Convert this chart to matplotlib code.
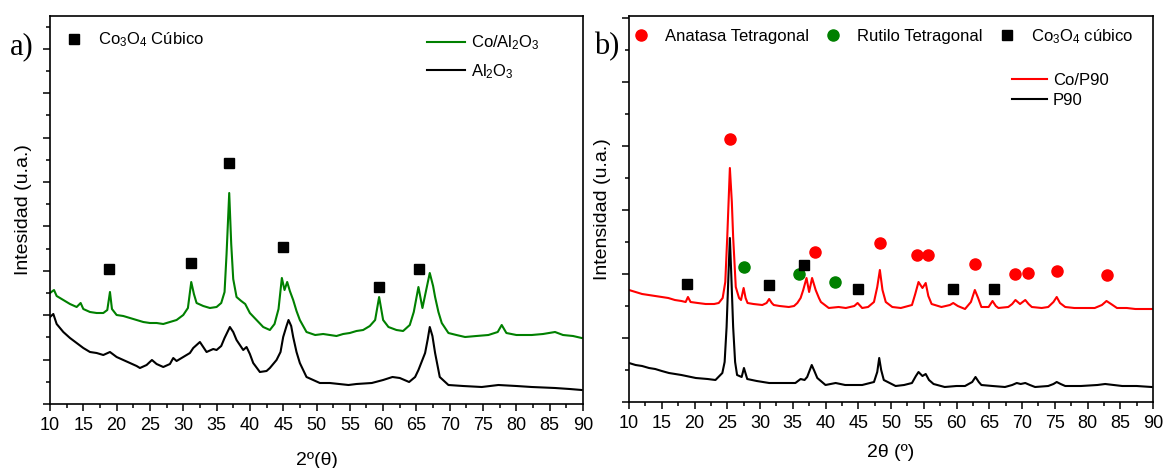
import matplotlib
matplotlib.use("Agg")
import matplotlib.pyplot as plt
from matplotlib.lines import Line2D
from matplotlib.ticker import MultipleLocator, NullFormatter

plt.rcParams['font.family'] = ['Liberation Sans', 'DejaVu Sans']
plt.rcParams['mathtext.fontset'] = 'custom'
plt.rcParams['mathtext.rm'] = 'Liberation Sans'
plt.rcParams['mathtext.it'] = 'Liberation Sans'
plt.rcParams['mathtext.default'] = 'rm'

# --------------------------
# datos panel a) (intensidad en u.a.)
# --------------------------
tt_co_al = [10.0, 10.6, 11.0, 12.0, 13.0, 14.0, 14.6, 15.0, 16.0, 17.0, 18.0, 18.6, 19.0, 19.3,
            20.0, 21.0, 22.0, 23.0, 24.0, 25.0, 26.0, 27.0, 28.0, 29.0, 30.0, 30.7, 31.2, 31.6,
            32.0, 33.0, 34.0, 35.0, 35.7, 36.2, 36.5, 36.9, 37.2, 37.5, 38.0, 38.7, 39.3, 40.0,
            41.0, 42.0, 43.0, 43.7, 44.3, 44.8, 45.2, 45.6, 46.0, 46.5, 47.0, 47.5, 48.5, 49.8,
            51.0, 52.0, 53.0, 54.0, 55.0, 56.0, 57.0, 58.0, 58.8, 59.4, 60.0, 60.8, 62.0, 63.0,
            64.0, 64.6, 65.3, 65.9, 66.4, 67.0, 67.5, 67.8, 68.3, 68.8, 69.8, 71.0, 72.3, 74.0,
            75.8, 77.2, 77.8, 78.5, 80.0, 82.3, 84.0, 85.8, 87.0, 88.5, 89.8]
i_co_al = [111, 114, 108, 104, 100, 97, 101, 95, 92, 91, 91, 94, 112, 95,
           89, 88, 86, 84, 82, 81, 81, 80, 82, 84, 89, 96, 122, 110,
           101, 98, 96, 97, 101, 112, 150, 211, 160, 125, 107, 103, 100, 91,
           84, 77, 74, 80, 95, 126, 114, 122, 113, 104, 93, 84, 72, 69,
           70, 69, 68, 70, 71, 73, 74, 78, 84, 107, 84, 77, 74, 73,
           79, 92, 117, 96, 112, 131, 118, 107, 92, 81, 71, 69, 67, 68,
           69, 72, 79, 71, 69, 69, 70, 72, 69, 68, 66]

tt_al = [10.0, 10.5, 11.0, 12.0, 13.0, 14.0, 15.0, 16.0, 17.0, 18.0, 19.0, 20.0, 21.0, 22.0,
         23.0, 23.5, 24.5, 25.3, 26.0, 27.0, 28.0, 28.5, 29.0, 30.0, 31.0, 31.5, 32.5, 33.0,
         33.5, 34.5, 35.0, 35.7, 36.2, 37.0, 37.5, 38.0, 39.0, 39.5, 40.0, 40.5, 41.5, 42.5,
         43.0, 44.0, 44.6, 45.0, 45.5, 45.8, 46.2, 46.5, 47.0, 47.5, 48.5, 49.5, 50.5, 52.0,
         54.8, 56.0, 58.3, 60.0, 61.4, 62.5, 63.9, 64.8, 65.3, 66.3, 66.7, 67.0, 67.4, 67.8,
         68.5, 69.8, 72.0, 74.8, 77.3, 80.0, 82.3, 85.8, 88.0, 89.8]
i_al = [87, 90, 80, 72, 66, 61, 56, 52, 51, 49, 52, 47, 44, 41,
        38, 36, 39, 44, 40, 37, 40, 46, 43, 47, 51, 56, 62, 57,
        52, 55, 54, 58, 66, 77, 72, 64, 54, 57, 50, 41, 32, 33,
        36, 44, 52, 67, 78, 84, 78, 67, 52, 41, 27, 24, 21, 21,
        19, 20, 21, 24, 27, 26, 22, 27, 34, 51, 65, 77, 68, 51,
        27, 19, 18, 17, 19, 18, 17, 16, 15, 14]

# picos Co3O4 cubico (panel a)
tt_co3o4_a = [18.9, 31.2, 36.9, 44.9, 59.4, 65.4]
i_co3o4_a = [135, 141, 241, 157, 117, 135]

# --------------------------
# datos panel b)
# --------------------------
tt_co_p90 = [10.0, 11.0, 12.0, 13.0, 14.0, 15.0, 16.0, 17.0, 18.0, 18.65, 19.0, 19.4, 20.5, 21.7,
             23.0, 23.7, 24.3, 24.7, 25.0, 25.4, 25.7, 25.9, 26.3, 26.8, 27.1, 27.5, 27.8, 28.1,
             29.0, 30.35, 31.0, 31.4, 31.8, 32.1, 33.0, 34.4, 35.2, 35.7, 36.2, 36.6, 37.1, 37.5,
             37.95, 38.5, 39.0, 39.3, 40.5, 42.0, 43.1, 44.4, 44.9, 45.6, 46.5, 47.4, 47.9, 48.3,
             48.7, 49.2, 50.2, 51.5, 53.2, 53.7, 54.2, 54.8, 55.3, 55.7, 56.2, 57.7, 59.0, 59.5,
             60.2, 61.3, 62.2, 62.8, 63.3, 63.8, 64.9, 65.5, 66.0, 66.4, 67.9, 68.5, 69.0, 69.7,
             70.5, 71.0, 71.5, 73.0, 74.0, 74.8, 75.3, 75.8, 76.6, 78.0, 81.1, 82.2, 82.9, 83.6,
             84.5, 86.0, 87.3, 89.8]
i_co_p90 = [112, 110, 108, 107, 106, 105, 104, 102, 101, 100, 105, 100, 99, 98,
            98, 99, 104, 120, 165, 234, 200, 165, 115, 104, 102, 114, 104, 99,
            98, 97, 99, 103, 99, 97, 96, 95, 96, 99, 104, 112, 124, 110,
            124, 112, 104, 100, 94, 95, 94, 96, 99, 94, 95, 100, 115, 132,
            112, 100, 95, 94, 97, 108, 120, 114, 119, 106, 98, 95, 97, 99,
            96, 93, 100, 112, 104, 95, 95, 101, 96, 94, 95, 98, 102, 98,
            102, 98, 95, 94, 95, 100, 105, 99, 95, 94, 94, 97, 101, 98,
            94, 94, 93, 93]

tt_p90 = [10.0, 11.0, 12.0, 13.05, 14.0, 15.0, 16.1, 18.0, 20.2, 22.0, 23.2, 24.25, 24.6, 24.9,
          25.2, 25.4, 25.6, 25.9, 26.2, 26.5, 27.2, 27.55, 28.05, 29.5, 31.4, 33.0, 35.4, 36.2,
          36.8, 37.2, 37.9, 38.3, 38.75, 40.0, 41.55, 43.0, 45.6, 47.4, 47.9, 48.2, 48.5, 48.9,
          50.7, 52.0, 53.2, 53.8, 54.2, 54.8, 55.3, 55.8, 56.5, 58.2, 60.0, 61.3, 62.4, 62.9,
          63.4, 63.8, 65.5, 67.4, 68.5, 69.2, 69.8, 70.5, 71.2, 72.0, 74.0, 74.8, 75.3, 75.9,
          76.6, 79.0, 81.5, 82.7, 84.0, 85.3, 87.5, 89.8]
i_p90 = [39, 37, 36, 34, 33, 31, 29, 27, 24, 23, 22, 29, 40, 75,
         130, 164, 130, 75, 40, 27, 25, 34, 23, 21, 19, 19, 19, 23,
         22, 25, 37, 31, 24, 17, 19, 17, 17, 20, 30, 44, 32, 22,
         16, 17, 19, 26, 30, 26, 28, 22, 18, 15, 16, 16, 20, 25,
         20, 17, 16, 15, 17, 19, 18, 19, 17, 15, 16, 18, 20, 18,
         16, 16, 17, 18, 17, 16, 16, 15]

# marcadores de fases (panel b)
tt_anatasa = [25.4, 38.35, 48.3, 54.0, 55.6, 62.9, 69.0, 70.9, 75.4, 83.0]
i_anatasa = [263, 150, 159, 147, 147, 138, 128, 129, 131, 127]
tt_rutilo = [27.5, 36.0, 41.4]
i_rutilo = [135, 128, 120]
tt_co3o4_b = [18.9, 31.3, 36.7, 44.9, 59.5, 65.7]
i_co3o4_b = [118, 117, 137, 113, 113, 113]

verde = '#008000'
rojo = '#ff0000'

fig = plt.figure(figsize=(11.66, 4.68), dpi=100)
ax1 = fig.add_axes([50/1166, 64/468, 533/1166, 388/468])
ax2 = fig.add_axes([629/1166, 66/468, 524/1166, 386/468])


def estilo(ax, ymax, ymaj):
    ax.set_xlim(10, 90)
    ax.set_ylim(0, ymax)
    ax.xaxis.set_major_locator(MultipleLocator(5))
    ax.xaxis.set_minor_locator(MultipleLocator(2.5))
    ax.yaxis.set_major_locator(MultipleLocator(ymaj))
    ax.yaxis.set_minor_locator(MultipleLocator(ymaj / 2))
    ax.yaxis.set_major_formatter(NullFormatter())
    ax.tick_params(which='major', direction='out', length=5, width=1.1, labelsize=13, pad=4)
    ax.tick_params(which='minor', direction='out', length=3, width=1.1)
    for s in ax.spines.values():
        s.set_linewidth(1.2)


# --------------------------
# panel a)
# --------------------------
ax1.plot(tt_co_al, i_co_al, color=verde, lw=1.5)
ax1.plot(tt_al, i_al, color='black', lw=1.5)
ax1.plot(tt_co3o4_a, i_co3o4_a, 's', color='black', ms=7, ls='none')
estilo(ax1, 388, 44.4)
ax1.set_xlabel('2º(θ)', fontsize=14, labelpad=13)
ax1.set_ylabel('Intesidad (u.a.)', fontsize=14, labelpad=4)

h_sq = Line2D([], [], marker='s', color='black', ls='none', ms=7)
leg = ax1.legend([h_sq], ['Co$_3$O$_4$ Cúbico'], loc='upper left', frameon=False,
                 fontsize=12, bbox_to_anchor=(0.0295, 0.963), borderpad=0, borderaxespad=0,
                 handlelength=1, handletextpad=0.94)
ax1.add_artist(leg)
h_g = Line2D([], [], color=verde, lw=1.5)
h_k = Line2D([], [], color='black', lw=1.5)
ax1.legend([h_g, h_k], ['Co/Al$_2$O$_3$', 'Al$_2$O$_3$'], loc='upper left', frameon=False,
           fontsize=12, bbox_to_anchor=(0.707, 0.955), borderpad=0, borderaxespad=0,
           handlelength=2.3, handletextpad=0.36, labelspacing=0.6)

# --------------------------
# panel b)
# --------------------------
ax2.plot(tt_co_p90, i_co_p90, color=rojo, lw=1.5)
ax2.plot(tt_p90, i_p90, color='black', lw=1.5)
ax2.plot(tt_anatasa, i_anatasa, 'o', color=rojo, ms=8, ls='none')
ax2.plot(tt_rutilo, i_rutilo, 'o', color=verde, ms=8, ls='none')
ax2.plot(tt_co3o4_b, i_co3o4_b, 's', color='black', ms=7, ls='none')
estilo(ax2, 386, 64)
ax2.set_xlabel('2θ (º)', fontsize=14, labelpad=9)
ax2.set_ylabel('Intensidad (u.a.)', fontsize=14, labelpad=4)

h_a = Line2D([], [], marker='o', color=rojo, ls='none', ms=8)
h_r = Line2D([], [], marker='o', color=verde, ls='none', ms=8)
leg2 = ax2.legend([h_a, h_r, h_sq], ['Anatasa Tetragonal', 'Rutilo Tetragonal', 'Co$_3$O$_4$ cúbico'],
                  loc='upper left', ncol=3, frameon=False, fontsize=12,
                  bbox_to_anchor=(0.007, 0.972), borderpad=0, borderaxespad=0,
                  handlelength=1, handletextpad=0.94, columnspacing=0.94)
ax2.add_artist(leg2)
h_r2 = Line2D([], [], color=rojo, lw=1.5)
ax2.legend([h_r2, h_k], ['Co/P90', 'P90'], loc='upper left', frameon=False, fontsize=12,
           bbox_to_anchor=(0.731, 0.852), borderpad=0, borderaxespad=0,
           handlelength=2.1, handletextpad=0.36, labelspacing=0.28)

fig.text(22/1166, 1 - 47/468, 'a)', fontsize=22, family='Liberation Serif', ha='center', va='center')
fig.text(607/1166, 1 - 47/468, 'b)', fontsize=22, family='Liberation Serif', ha='center', va='center')

fig.savefig('out.png', dpi=100)
